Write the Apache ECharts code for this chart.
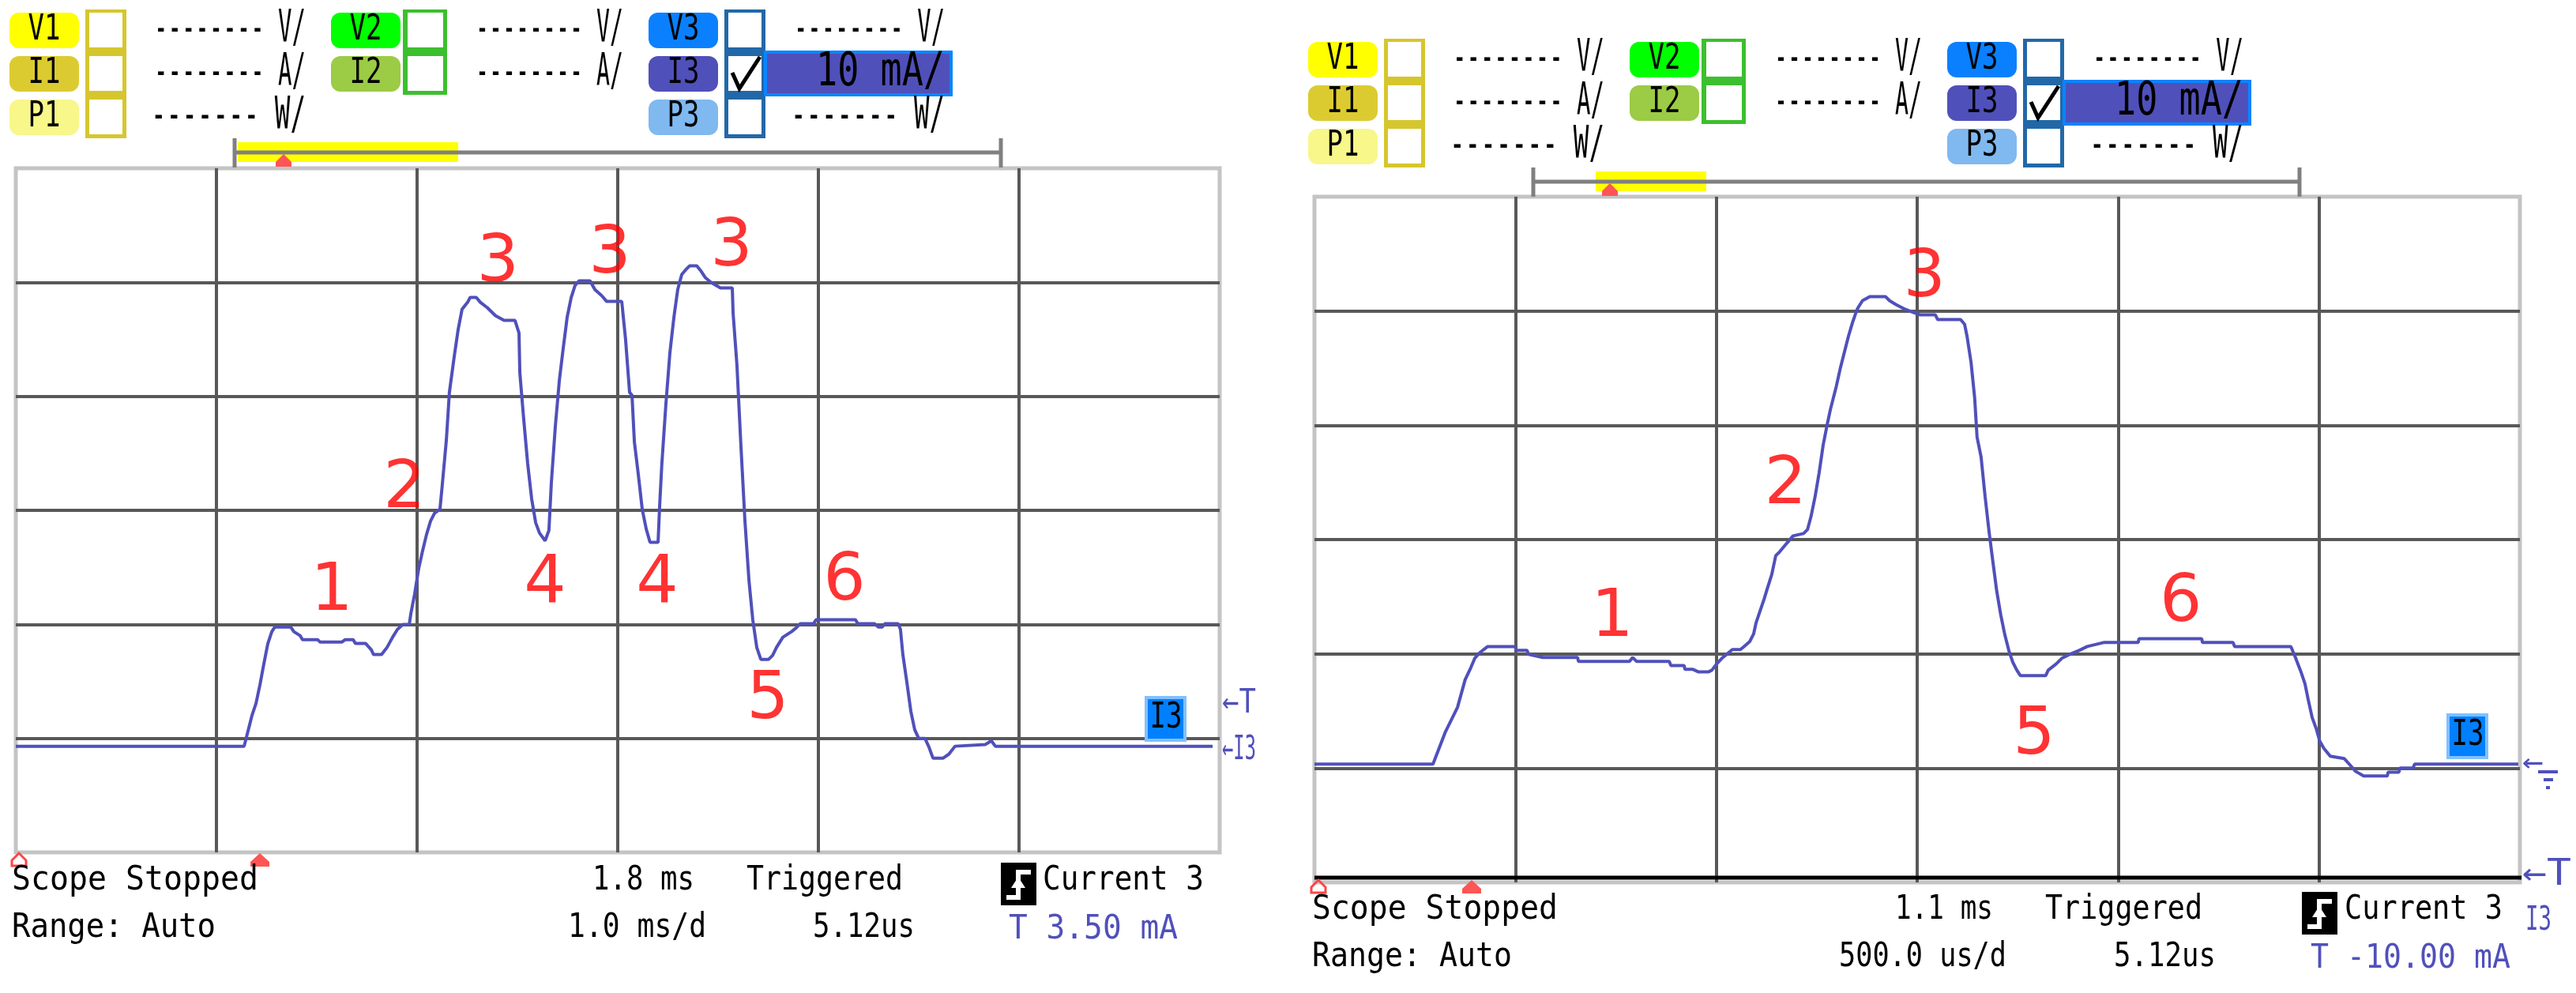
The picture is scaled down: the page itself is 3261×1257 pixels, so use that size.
<!DOCTYPE html>
<html><head><meta charset="utf-8">
<script src="https://cdn.jsdelivr.net/npm/echarts@6/dist/echarts.min.js"></script>
<style>html,body{margin:0;padding:0;background:#fff}#c{width:3261px;height:1257px}</style>
</head><body><div id="c"></div>
<script>
// ---------------- DATA ----------------
// Left capture: time in ms (1.0 ms/div), current in mA (10 mA/div)
const leftTime = [0,1.138,1.157,1.177,1.197,1.217,1.236,1.256,1.276,1.291,
1.370,1.386,1.417,1.429,1.504,1.516,1.626,1.642,1.681,1.693,
1.744,1.772,1.783,1.823,1.850,1.878,1.902,1.929,1.961,1.969,
1.988,2.008,2.028,2.047,2.067,2.087,2.114,2.126,2.146,2.161,
2.185,2.205,2.224,2.252,2.264,2.295,2.315,2.350,2.390,2.433,
2.488,2.508,2.512,2.531,2.551,2.571,2.591,2.610,2.638,2.657,
2.669,2.689,2.709,2.728,2.748,2.768,2.787,2.807,2.862,2.886,
2.921,2.945,3.020,3.039,3.059,3.071,3.083,3.102,3.122,3.142,
3.161,3.201,3.209,3.220,3.240,3.260,3.280,3.299,3.319,3.339,
3.358,3.394,3.413,3.437,3.465,3.512,3.571,3.575,3.594,3.614,
3.634,3.654,3.673,3.693,3.713,3.752,3.772,3.791,3.823,3.866,
3.890,3.909,3.976,3.988,4.185,4.197,4.280,4.299,4.319,4.331,
4.398,4.409,4.421,4.441,4.461,4.480,4.500,4.531,4.551,4.571,
4.622,4.650,4.681,4.831,4.862,4.882,5.965];
const leftCurrent = [-0.69,-0.69,0.62,2.01,3.05,4.71,6.51,8.30,9.36,9.77,
9.77,9.36,9.01,8.66,8.66,8.45,8.45,8.66,8.66,8.32,
8.32,7.76,7.35,7.35,7.97,8.87,9.56,9.98,9.98,10.95,
12.68,14.90,16.49,17.88,19.06,19.75,20.10,22.31,26.20,30.35,
33.47,35.90,37.63,38.25,38.67,38.67,38.25,37.77,37.08,36.66,
36.66,35.55,32.09,28.07,24.12,21.00,18.92,18.02,17.33,18.23,
22.38,27.37,31.39,34.17,36.94,38.67,39.71,40.13,40.13,39.36,
38.81,38.32,38.32,35.00,30.35,30.10,25.99,23.22,20.10,18.36,
17.19,17.19,20.44,24.12,29.31,33.82,36.94,39.36,40.68,41.10,
41.44,41.44,41.03,40.40,39.99,39.50,39.50,37.28,32.78,25.64,
19.06,13.86,10.40,7.97,6.93,6.93,7.28,7.97,8.87,9.36,
9.70,10.05,10.05,10.40,10.40,10.05,10.05,9.77,9.77,10.05,
10.05,9.56,7.35,4.92,2.36,0.76,0,0,-0.76,-1.73,
-1.73,-1.39,-0.69,-0.55,-0.21,-0.69,-0.69];

// Right capture: time in ms (500 us/div), current in mA (10 mA/div)
const rightTime = [0,0.295,0.326,0.356,0.375,0.389,0.399,0.409,0.421,0.431,
0.499,0.503,0.529,0.533,0.568,0.655,0.657,0.784,0.792,0.802,
0.883,0.887,0.920,0.922,0.942,0.955,0.981,0.989,1.001,1.014,
1.028,1.040,1.060,1.069,1.083,1.093,1.099,1.109,1.119,1.128,
1.138,1.148,1.158,1.176,1.191,1.217,1.227,1.236,1.246,1.256,
1.266,1.276,1.284,1.299,1.309,1.319,1.329,1.339,1.349,1.354,
1.364,1.382,1.421,1.431,1.447,1.466,1.486,1.506,1.545,1.551,
1.608,1.618,1.624,1.634,1.643,1.649,1.659,1.669,1.679,1.689,
1.698,1.708,1.718,1.728,1.738,1.748,1.757,1.820,1.826,1.846,
1.860,1.879,1.903,1.923,1.964,2.050,2.052,2.208,2.210,2.286,
2.290,2.430,2.440,2.449,2.455,2.465,2.473,2.483,2.493,2.502,
2.512,2.528,2.563,2.577,2.591,2.611,2.670,2.672,2.699,2.701,
2.734,2.738,2.996];
const rightCurrent = [0.35,0.35,3.18,5.32,7.74,8.78,9.61,10.02,10.37,10.64,
10.64,10.30,10.30,9.95,9.68,9.68,9.33,9.33,9.68,9.33,
9.33,8.98,8.98,8.64,8.64,8.43,8.43,8.57,9.12,9.61,
10.02,10.37,10.37,10.64,11.06,11.75,12.72,13.75,14.79,15.83,
16.93,18.59,18.94,19.70,20.32,20.53,20.87,22.05,23.77,25.85,
28.27,30.06,31.38,33.45,35.04,36.42,37.80,38.98,40.01,40.36,
40.91,41.26,41.26,40.91,40.57,40.22,39.94,39.67,39.67,39.25,
39.25,38.84,37.80,35.52,32.41,28.96,27.23,23.77,20.66,17.90,
15.48,13.41,11.68,10.30,9.26,8.57,8.09,8.09,8.57,9.12,
9.61,9.95,10.30,10.64,10.99,10.99,11.33,11.33,10.99,10.99,
10.64,10.64,9.81,8.98,8.43,7.39,6.01,4.42,3.46,2.35,
1.73,1.04,0.83,0.28,-0.28,-0.69,-0.69,-0.35,-0.35,0,
0,0.35,0.35];

// Phase annotations
const leftMarkText = ['1','2','3','3','3','4','4','5','6'];
const leftMarkTime = [1.575,1.937,2.402,2.961,3.567,2.638,3.197,3.748,4.130];
const leftMarkCurrent = [12.8,21.8,41.6,42.4,43.0,13.5,13.5,3.3,13.7];
const rightMarkText = ['1','2','3','5','6'];
const rightMarkTime = [0.741,1.172,1.518,1.791,2.156];
const rightMarkCurrent = [13.1,24.7,42.8,2.8,14.4];

// Axis scales
const leftXRange = [0, 6, 1];      // ms, 1.0 ms/d
const rightXRange = [0, 3, 0.5];   // ms, 500 us/d
const yRange = [-10, 50, 10];      // mA, 10 mA/div

// Texts
const headerChannels = ['V1','I1','P1','V2','I2','V3','I3','P3'];
const headerScales = ['-------- V/','-------- A/','------- W/','-------- V/','-------- A/','-------- V/','------- W/'];
const selectedScale = '10 mA/';
const leftStatus = ['Scope Stopped','Range: Auto','1.8 ms','1.0 ms/d','Triggered','5.12us','Current 3','T 3.50 mA'];
const rightStatus = ['Scope Stopped','Range: Auto','1.1 ms','500.0 us/d','Triggered','5.12us','Current 3','T -10.00 mA'];
const channelTag = 'I3';

// ---------------- RENDER ----------------
const MONO = '"DejaVu Sans Mono", monospace';
const TRACE = '#5050BB';
const G = [];
function rect(x,y,w,h,fill,stroke,lw,z){G.push({type:'rect',shape:{x:x,y:y,width:w,height:h},style:{fill:fill,stroke:stroke||null,lineWidth:lw||0},z:z||10});}
function rrect(x,y,w,h,r,fill,z){G.push({type:'rect',shape:{x:x,y:y,width:w,height:h,r:r},style:{fill:fill},z:z||10});}
function line(x1,y1,x2,y2,c,w,z){G.push({type:'line',shape:{x1:x1,y1:y1,x2:x2,y2:y2},style:{stroke:c,lineWidth:w},z:z||10});}
function poly(pts,fill,stroke,lw,z){G.push({type:'polygon',shape:{points:pts},style:{fill:fill||null,stroke:stroke||null,lineWidth:lw||0},z:z||12});}
function pline(pts,c,w,z){G.push({type:'polyline',shape:{points:pts},style:{stroke:c,lineWidth:w,fill:null},z:z||12});}
function fit(str,left,right,cy,size,sy,color,z){
  const nat = str.length*0.602*size;
  G.push({type:'text',x:left,y:cy,scaleX:(right-left)/nat,scaleY:sy,z:z||20,
    style:{text:str,x:0,y:0,font:size+'px '+MONO,fill:color||'#000',align:'left',verticalAlign:'middle'}});
}
function ctext(str,cx,cy,size,sy,color,z){
  G.push({type:'text',x:cx,y:cy,scaleY:sy,z:z||20,
    style:{text:str,x:0,y:0,font:size+'px '+MONO,fill:color||'#000',align:'center',verticalAlign:'middle'}});
}

function header(dx,dy,yx0,yx1,mx){
  const bcol = ['#FFFF00','#DCCB30','#F7F78A','#00FF00','#9CCB45','#0A80FF','#5050BB','#80B8F0'];
  const bpos = [[12,16],[12,71],[12,126],[419,16],[419,71],[821,16],[821,71],[821,126]];
  headerChannels.forEach((c,i)=>{
    rrect(bpos[i][0]+dx,bpos[i][1]+dy,88,45,12,bcol[i]);
    ctext(c,bpos[i][0]+dx+44,bpos[i][1]+dy+23,34,1.3,'#000');
  });
  // checkbox columns
  rect(108+dx,12+dy,52,163,'#D6C62E');
  [16,71,126].forEach(y=>rect(113+dx,y+dy,42,44,'#fff'));
  rect(510+dx,12+dy,56,108,'#3CBF2E');
  [16,71].forEach(y=>rect(516+dx,y+dy,45,44,'#fff'));
  rect(917+dx,12+dy,52,163,'#2268A8');
  [16,71,126].forEach(y=>rect(922+dx,y+dy,42,44,'#fff'));
  pline([[927+dx,92+dy],[936+dx,112+dy],[962+dx,72+dy]],'#000',5,14);
  // selected scale box
  rect(969+dx,66+dy,235,54,'#5050BB','#0A84FF',4,11);
  fit(selectedScale,1033+dx,1196+dx,93+dy,40,1.45,'#000');
  // scale texts
  const tp = [[195,387,38],[195,387,93],[191,387,148],[602,789,38],[602,789,93],[1005,1196,38],[1001,1196,148]];
  headerScales.forEach((s,i)=>fit(s,tp[i][0]+dx,tp[i][1]+dx,tp[i][2]+dy,30,1.9,'#000'));
  // timeline
  rect(yx0,180+dy,yx1-yx0,25,'#FFFF00');
  line(295+dx,193+dy,1269+dx,193+dy,'#808080',5,11);
  line(297+dx,175+dy,297+dx,212+dy,'#808080',5,11);
  line(1267+dx,175+dy,1267+dx,212+dy,'#808080',5,11);
  poly([[mx,195+dy],[mx-10,205+dy],[mx-10,211+dy],[mx+10,211+dy],[mx+10,205+dy]],'#FF5555',null,0,13);
}
header(0,0,301,580,359);
header(1644,37,2020,2160,2038);

function trig(x,y){
  rect(x,y,45,54,'#000',null,0,15);
  pline([[x+7,y+44],[x+22,y+44],[x+22,y+12],[x+38,y+12]],'#fff',6,16);
  poly([[x+22,y+18],[x+13,y+32],[x+31,y+32]],'#fff',null,0,16);
}
function status(S,xs,c1,c2){
  fit(S[0],xs[0][0],xs[0][1],c1,38,1.12);
  fit(S[1],xs[1][0],xs[1][1],c2,38,1.12);
  fit(S[2],xs[2][0],xs[2][1],c1,38,1.12);
  fit(S[3],xs[3][0],xs[3][1],c2,38,1.12);
  fit(S[4],xs[4][0],xs[4][1],c1,38,1.12);
  fit(S[5],xs[5][0],xs[5][1],c2,38,1.12);
  fit(S[6],xs[6][0],xs[6][1],c1,38,1.12);
  fit(S[7],xs[7][0],xs[7][1],c2+2,38,1.12,TRACE);
}
status(leftStatus,[[15,327],[15,273],[750,879],[719,894],[945,1143],[1029,1158],[1320,1524],[1277,1491]],1115,1175);
status(rightStatus,[[1661,1972],[1661,1914],[2399,2523],[2328,2540],[2589,2788],[2676,2805],[2968,3168],[2925,3178]],1152,1212);
trig(1267,1092);
trig(2914,1129);

// bottom red markers
function markers(x0,x1,y){
  poly([[x0,y],[x0-9,y+9],[x0-9,y+16],[x0+9,y+16],[x0+9,y+9]],null,'#FF4444',3,13);
  poly([[x1,y],[x1-12,y+11],[x1-12,y+17],[x1+12,y+17],[x1+12,y+11]],'#FF5555',null,0,13);
}
markers(24,329,1080);
markers(1669,1863,1114);

// right panel bottom black line
line(1664,1111,3192,1111,'#000',5,9);

// channel tags
function tag(x,y){
  rect(x,y,49,54,'#0080FF','#80C0FF',4,15);
  ctext(channelTag,x+25,y+27,34,1.3,'#000',16);
}
tag(1451,883);
tag(3099,905);
// side markers
fit('\u2190T',1547,1590,891,30,1.4,TRACE);
fit('\u2190'+channelTag,1547,1590,950,30,1.4,TRACE);
fit('\u2190',3193,3220,967,30,1.3,TRACE);
line(3213,977,3238,977,TRACE,4,20);
line(3220,987,3232,987,TRACE,4,20);
line(3223,997,3228,997,TRACE,4,20);
fit('\u2190T',3193,3255,1108,34,1.35,TRACE);
fit(channelTag,3197,3230,1166,34,1.25,TRACE);

// ---------------- CHART ----------------
const split = {show:true,showMinLine:false,showMaxLine:false,lineStyle:{color:'#585858',width:4}};
function xAx(idx,r){return {type:'value',gridIndex:idx,min:r[0],max:r[1],interval:r[2],axisLine:{show:false},axisTick:{show:false},axisLabel:{show:false},splitLine:split};}
function yAx(idx){return {type:'value',gridIndex:idx,min:yRange[0],max:yRange[1],interval:yRange[2],axisLine:{show:false},axisTick:{show:false},axisLabel:{show:false},splitLine:split};}
function zip(a,b){return a.map((v,i)=>[v,b[i]]);}
function marks(t,x,y){return t.map((s,i)=>({name:s,value:[x[i],y[i]]}));}
const markLabel = {show:true,position:'inside',formatter:'{b}',color:'#FF0000',fontSize:84,fontFamily:'DejaVu Sans'};

const chart = echarts.init(document.getElementById('c'),null,{renderer:'canvas'});
chart.setOption({
  animation:false,
  backgroundColor:'#fff',
  grid:[
    {left:20,top:213,width:1524,height:866,show:true,borderColor:'#C4C4C4',borderWidth:5,backgroundColor:'#fff'},
    {left:1664,top:249,width:1526,height:868,show:true,borderColor:'#C4C4C4',borderWidth:5,backgroundColor:'#fff'}
  ],
  xAxis:[xAx(0,leftXRange),xAx(1,rightXRange)],
  yAxis:[yAx(0),yAx(1)],
  series:[
    {type:'line',xAxisIndex:0,yAxisIndex:0,data:zip(leftTime,leftCurrent),symbol:'none',lineStyle:{color:TRACE,width:4},z:5},
    {type:'line',xAxisIndex:1,yAxisIndex:1,data:zip(rightTime,rightCurrent),symbol:'none',lineStyle:{color:TRACE,width:4},z:5},
    {type:'scatter',xAxisIndex:0,yAxisIndex:0,data:marks(leftMarkText,leftMarkTime,leftMarkCurrent),symbolSize:0,label:markLabel,z:6},
    {type:'scatter',xAxisIndex:1,yAxisIndex:1,data:marks(rightMarkText,rightMarkTime,rightMarkCurrent),symbolSize:0,label:markLabel,z:6}
  ],
  graphic:{elements:G}
});
</script>
</body></html>
